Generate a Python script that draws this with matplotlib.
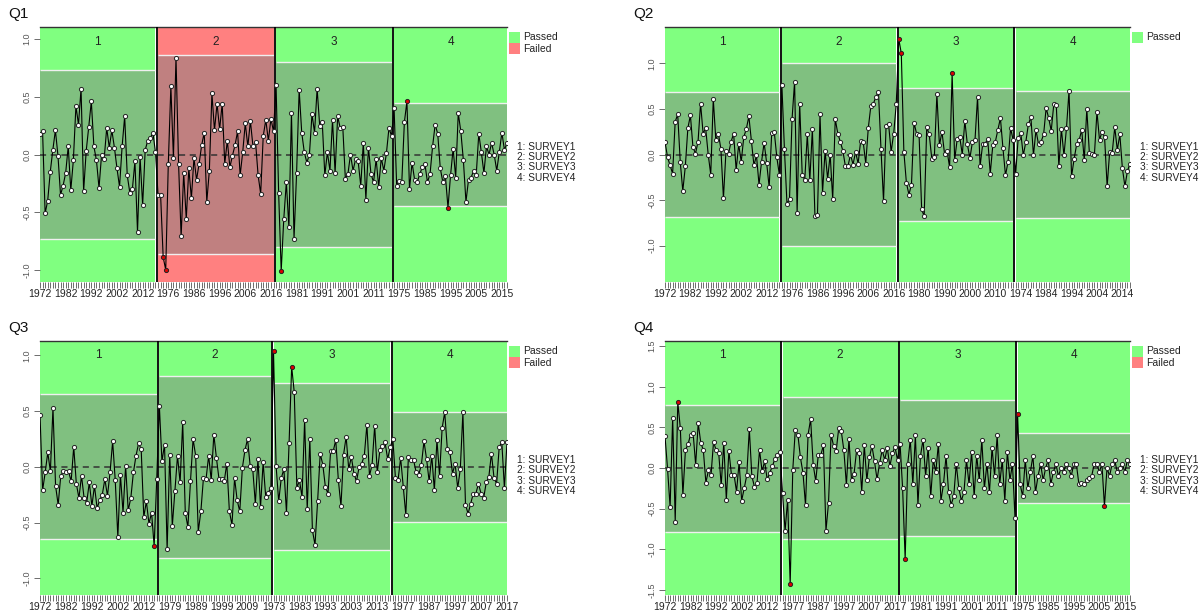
import matplotlib.pyplot as plt
from matplotlib.patches import Rectangle
import numpy as np

plt.rcParams['font.family'] = ['Liberation Sans', 'DejaVu Sans']

# ---- Q1 ----
q1_seg1 = [0.18, 0.20, -0.51, -0.40, -0.15, 0.04, 0.21, -0.01, -0.35, -0.27, -0.16, 0.07, -0.31, -0.05,
           0.42, 0.26, 0.57, -0.32, 0.03, 0.24, 0.46, 0.07, -0.05, -0.29, 0.00, -0.04, 0.23, 0.06, 0.21,
           0.06, -0.12, -0.28, 0.07, 0.33, -0.18, -0.33, -0.30, -0.06, -0.67, -0.02, -0.44, 0.04, 0.12,
           0.14, 0.19, 0.02]
q1_seg2 = [-0.35, -0.35, -0.89, -1.00, -0.08, 0.59, -0.03, 0.84, -0.08, -0.71, -0.16, -0.56, -0.12,
           -0.38, -0.03, -0.22, -0.08, 0.08, 0.19, -0.41, -0.14, 0.53, 0.21, 0.44, 0.22, 0.44, -0.08, 0.12,
           -0.11, -0.01, 0.08, 0.20, -0.18, 0.02, 0.27, 0.07, 0.29, 0.07, 0.11, -0.18, -0.34, 0.16, 0.30,
           0.12, 0.31, 0.20]
q1_seg3 = [0.60, -0.33, -1.01, -0.56, -0.24, -0.63, 0.36, -0.73, -0.16, 0.56, 0.19, 0.02, -0.07, 0.00,
           0.35, 0.19, 0.57, 0.25, 0.28, -0.18, 0.02, -0.14, 0.30, -0.16, 0.33, 0.23, 0.24, -0.21, -0.17,
           0.00, -0.14, -0.04, -0.06, -0.27, 0.10, -0.39, 0.06, -0.17, -0.24, -0.04, -0.28, -0.03, -0.14,
           0.01, 0.23, 0.16]
q1_seg4 = [0.40, -0.27, -0.23, -0.24, 0.28, 0.46, -0.30, -0.07, -0.22, -0.24, -0.17, -0.11, -0.08,
           -0.24, -0.17, 0.07, 0.26, 0.18, -0.12, -0.24, -0.19, -0.46, -0.18, 0.05, -0.20, 0.36, 0.20,
           -0.05, -0.41, -0.22, -0.20, -0.14, -0.18, 0.18, 0.02, -0.16, 0.07, 0.00, 0.10, 0.00, -0.14,
           0.02, 0.19, 0.04, 0.10]
q1_limits = [0.73, 0.865, 0.80, 0.445]
q1_passed = [True, False, True, True]
q1_labels = ['1972', '1982', '1992', '2002', '2012', '1976', '1986', '1996', '2006', '2016',
             '1981', '1991', '2001', '2011', '1975', '1985', '1995', '2005', '2015']

# ---- Q2 ----
q2_seg1 = [0.14, -0.03, -0.12, -0.21, 0.36, 0.44, -0.08, -0.40, -0.13, 0.29, 0.43, 0.08, 0.01, 0.14,
           0.56, 0.23, 0.29, 0.00, -0.22, 0.61, 0.16, 0.23, 0.06, -0.48, 0.04, 0.01, 0.14, 0.23, -0.17,
           0.11, -0.08, 0.19, 0.28, 0.42, 0.15, -0.12, -0.01, -0.33, -0.08, 0.13, -0.09, -0.36, 0.24,
           0.25, -0.03, -0.22]
q2_seg2 = [0.76, 0.06, -0.54, -0.49, 0.39, 0.80, -0.64, 0.56, -0.22, -0.28, 0.22, -0.28, 0.28, -0.67,
           -0.66, 0.44, -0.42, 0.04, -0.27, 0.00, -0.49, 0.39, 0.23, 0.14, 0.04, -0.13, -0.13, 0.00,
           -0.11, 0.03, -0.10, 0.15, 0.14, -0.10, 0.29, 0.53, 0.56, 0.63, 0.69, 0.06, -0.51, 0.31, 0.33,
           0.03, 0.23, 0.55]
q2_seg3 = [1.27, 1.11, 0.03, -0.31, -0.44, -0.33, 0.35, 0.23, 0.21, -0.60, -0.68, 0.30, 0.22, -0.05,
           -0.03, 0.66, 0.10, 0.25, 0.01, 0.04, -0.14, 0.89, -0.06, 0.17, 0.19, 0.00, 0.37, 0.11, -0.04,
           0.14, 0.16, 0.63, -0.13, 0.11, 0.12, 0.17, -0.21, 0.10, 0.14, 0.27, 0.40, 0.07, -0.23, -0.08,
           0.29, 0.16]
q2_seg4 = [-0.21, 0.18, 0.24, -0.01, 0.14, 0.33, 0.41, -0.01, 0.27, 0.11, 0.14, 0.22, 0.51, 0.40, 0.26,
           0.55, 0.54, -0.13, 0.28, -0.01, 0.29, 0.70, -0.24, -0.05, 0.11, 0.16, 0.27, -0.06, 0.50, 0.02,
           0.01, 0.00, 0.47, 0.16, 0.25, 0.19, -0.35, 0.03, 0.02, 0.30, 0.05, 0.22, -0.15, -0.35, -0.18,
           -0.10]
q2_limits = [0.69, 1.0, 0.725, 0.70]
q2_passed = [True, True, True, True]
q2_labels = ['1972', '1982', '1992', '2002', '2012', '1976', '1986', '1996', '2006', '2016',
             '1980', '1990', '2000', '2010', '1974', '1984', '1994', '2004', '2014']

# ---- Q3 ----
q3_seg1 = [0.47, -0.21, -0.05, 0.13, -0.04, 0.53, -0.17, -0.34, -0.08, -0.04, -0.05, -0.04, -0.13,
           0.18, -0.15, -0.28, -0.08, -0.28, -0.32, -0.14, -0.35, -0.17, -0.37, -0.30, -0.25, -0.11,
           -0.26, -0.05, 0.23, -0.12, -0.63, -0.07, -0.41, 0.01, -0.39, -0.28, -0.05, 0.10, 0.21, 0.16,
           -0.45, -0.31, -0.51, -0.41, -0.71, -0.11]
q3_seg2 = [0.55, 0.05, 0.20, -0.74, 0.11, -0.53, -0.22, 0.10, -0.14, 0.40, -0.41, -0.54, -0.13, 0.25,
           0.10, -0.58, -0.40, -0.10, -0.11, 0.10, -0.12, 0.29, 0.08, -0.11, -0.11, -0.13, 0.03, -0.40,
           -0.52, -0.10, -0.30, -0.40, -0.01, 0.15, 0.25, 0.01, -0.02, -0.33, 0.07, -0.36, 0.04, -0.27,
           -0.23, -0.19]
q3_seg3 = [1.04, 0.01, -0.31, -0.10, -0.02, -0.41, 0.21, 0.90, 0.67, -0.19, -0.12, -0.27, 0.42, -0.38,
           0.25, -0.57, -0.70, -0.31, 0.12, 0.02, -0.18, -0.24, 0.14, 0.14, 0.24, -0.12, -0.35, 0.11,
           0.27, -0.02, 0.09, -0.06, -0.13, 0.00, 0.03, 0.10, 0.38, -0.08, 0.02, 0.37, -0.05, 0.15, 0.19,
           0.22, 0.07, 0.18]
q3_seg4 = [0.25, -0.10, -0.12, 0.08, -0.18, -0.43, 0.09, 0.06, 0.06, -0.05, -0.07, 0.02, 0.23, 0.07,
           -0.13, 0.10, -0.21, 0.24, -0.08, 0.35, 0.49, 0.16, 0.13, -0.06, 0.03, -0.19, -0.02, 0.49,
           -0.34, -0.42, -0.33, -0.24, -0.24, -0.15, -0.24, -0.28, -0.14, -0.09, 0.12, -0.10, -0.15,
           0.18, 0.22, -0.19, 0.22]
q3_limits = [0.65, 0.815, 0.75, 0.495]
q3_passed = [True, True, True, True]
q3_labels = ['1972', '1982', '1992', '2002', '2012', '1979', '1989', '1999', '2009',
             '1973', '1983', '1993', '2003', '2013', '1977', '1987', '1997', '2007', '2017']

# ---- Q4 ----
q4_seg1 = [0.39, -0.01, -0.48, 0.62, -0.66, 0.81, 0.49, -0.33, 0.22, 0.29, 0.41, 0.43, 0.04, 0.55,
           0.31, 0.22, -0.18, -0.03, -0.09, 0.32, 0.22, 0.19, -0.21, 0.31, -0.39, 0.21, -0.08, -0.08,
           -0.29, 0.07, -0.40, -0.25, -0.09, 0.48, -0.10, -0.23, -0.19, 0.22, -0.04, 0.08, -0.14, -0.06,
           0.02, 0.11, 0.16, 0.20]
q4_seg2 = [-0.31, -0.77, -0.39, -1.43, -0.03, 0.47, 0.41, 0.13, -0.06, -0.46, 0.41, 0.60, 0.04, -0.16,
           0.16, 0.16, 0.28, -0.77, -0.43, 0.41, 0.27, 0.21, 0.49, 0.45, 0.22, -0.21, 0.36, -0.15, -0.07,
           0.22, 0.19, -0.29, 0.28, -0.15, 0.13, 0.27, 0.08, -0.14, 0.06, 0.22, 0.10, 0.25, 0.02, 0.18,
           0.26, 0.10]
q4_seg3 = [0.30, -0.25, -1.12, 0.05, 0.35, -0.20, 0.40, -0.45, 0.15, 0.35, -0.10, 0.25, -0.35, 0.10,
           -0.05, 0.30, -0.40, -0.20, 0.15, -0.30, -0.45, -0.35, 0.05, -0.25, -0.40, -0.30, 0.10, -0.20,
           0.20, -0.35, 0.15, -0.15, 0.35, -0.25, 0.05, -0.30, 0.25, -0.10, 0.40, -0.20, 0.10, -0.40,
           0.20, -0.15, 0.05, -0.62]
q4_seg4 = [0.66, -0.20, -0.35, 0.10, -0.25, -0.05, 0.15, -0.30, -0.10, 0.05, -0.15, 0.00, 0.10, -0.20,
           -0.05, 0.05, -0.10, 0.00, -0.05, 0.05, 0.00, -0.10, 0.05, 0.05, -0.20, -0.18, -0.20, -0.15,
           -0.12, -0.10, 0.05, 0.05, -0.05, 0.05, -0.47, 0.00, -0.10, 0.05, 0.10, -0.05, 0.00, 0.05,
           -0.05, 0.10, 0.05]
q4_limits = [0.78, 0.87, 0.84, 0.43]
q4_passed = [True, True, True, True]
q4_labels = ['1972', '1982', '1992', '2002', '2012', '1977', '1987', '1997', '2007', '2017',
             '1981', '1991', '2001', '2011', '1975', '1985', '1995', '2005', '2015']

surveys = ['SURVEY1', 'SURVEY2', 'SURVEY3', 'SURVEY4']

GREEN = '#80FF80'
GREEN_IN = '#80C080'
RED = '#FF8080'
RED_IN = '#C08080'


def draw_panel(ax, title, segs, limits, passed, labels, ylim, yticks, legend_items):
    n_tot = sum(len(s) for s in segs)
    y_all = np.concatenate([np.array(s) for s in segs])
    x_all = np.arange(n_tot)
    start = 0
    for i, seg in enumerate(segs):
        end = start + len(seg) - 1
        outer = GREEN if passed[i] else RED
        inner = GREEN_IN if passed[i] else RED_IN
        ax.add_patch(Rectangle((start, ylim[0]), end - start, ylim[1] - ylim[0],
                               facecolor=outer, lw=0, zorder=1))
        ax.add_patch(Rectangle((start, -limits[i]), end - start, 2 * limits[i],
                               facecolor=inner, lw=0, zorder=2))
        ax.hlines([-limits[i], limits[i]], start, end, colors='#f0f0f0', lw=1.0, zorder=3)
        ax.text((start + end) / 2, ylim[1] - 0.057 * (ylim[1] - ylim[0]), str(i + 1),
                ha='center', va='center', fontsize=8.5, color='#222222', zorder=6)
        if i < len(segs) - 1:
            ax.axvline(end + 0.5, color='black', lw=1.3, zorder=4)
        start = end + 1

    ax.axhline(0, color='#333333', lw=1.1, ls=(0, (4, 3)), zorder=3)
    ax.plot(x_all, y_all, color='black', lw=0.8, zorder=5)

    # flag the points outside the limits of their segment
    lim_all = np.concatenate([np.full(len(s), limits[i]) for i, s in enumerate(segs)])
    out = np.abs(y_all) > lim_all
    ax.plot(x_all[~out], y_all[~out], 'o', ms=3.0, mfc='white', mec='#222222', mew=0.7, zorder=6)
    ax.plot(x_all[out], y_all[out], 'o', ms=3.0, mfc='#DD0000', mec='#222222', mew=0.7, zorder=6)

    ax.set_xlim(0, n_tot - 1)
    ax.set_ylim(*ylim)
    ax.set_xticks(np.arange(0, n_tot, 10)[:len(labels)])
    ax.set_xticklabels(labels)
    ax.set_xticks(np.arange(n_tot), minor=True)
    ax.tick_params(axis='x', which='both', length=4, width=0.5, color='#333333',
                   labelsize=7.5, labelcolor='#222222', pad=1)
    ax.set_yticks(yticks)
    ax.set_yticklabels(['%.1f' % v for v in yticks], rotation=90, va='center')
    ax.tick_params(axis='y', length=4, width=0.6, color='#555555', labelsize=6.5,
                   labelcolor='#555555', pad=2)
    for side in ['left', 'right', 'bottom']:
        ax.spines[side].set_visible(False)
    ax.spines['top'].set_color('#333333')
    ax.spines['top'].set_linewidth(1.0)

    # legend boxes at the top right
    bw = 11 / (ax.bbox.width)
    bh = 11 / (ax.bbox.height)
    for k, (lab, col) in enumerate(legend_items):
        y0 = 1 - 5 / ax.bbox.height - (k + 1) * bh
        ax.add_patch(Rectangle((1.005, y0), bw, bh, transform=ax.transAxes,
                               facecolor=col, lw=0, clip_on=False))
        ax.text(1.005 + bw + 0.006, y0 + bh / 2, lab, transform=ax.transAxes,
                fontsize=7.5, va='center', ha='left', color='#222222')
    txt = '\n'.join('%d: %s' % (i + 1, s) for i, s in enumerate(surveys))
    ax.text(1.022, 0.47, txt, transform=ax.transAxes, fontsize=7.3, va='center', ha='left',
            color='#222222', linespacing=1.05)

    fig.text(ax.get_position().x0 - 32 / 1200, ax.get_position().y1 + 13 / 613, title,
             fontsize=11, ha='left', va='center', color='#111111')


fig = plt.figure(figsize=(12, 6.13), dpi=100)
W, H = 1200, 613
ax1 = fig.add_axes([40 / W, 1 - 282 / H, 467 / W, 255 / H])
ax2 = fig.add_axes([665 / W, 1 - 282 / H, 465 / W, 255 / H])
ax3 = fig.add_axes([40 / W, 1 - 595 / H, 467 / W, 254 / H])
ax4 = fig.add_axes([665 / W, 1 - 595 / H, 465 / W, 254 / H])

both = [('Passed', GREEN), ('Failed', RED)]
draw_panel(ax1, 'Q1', [q1_seg1, q1_seg2, q1_seg3, q1_seg4], q1_limits, q1_passed, q1_labels,
           (-1.105, 1.105), [-1.0, -0.5, 0.0, 0.5, 1.0], both)
draw_panel(ax2, 'Q2', [q2_seg1, q2_seg2, q2_seg3, q2_seg4], q2_limits, q2_passed, q2_labels,
           (-1.40, 1.40), [-1.0, -0.5, 0.0, 0.5, 1.0], [('Passed', GREEN)])
draw_panel(ax3, 'Q3', [q3_seg1, q3_seg2, q3_seg3, q3_seg4], q3_limits, q3_passed, q3_labels,
           (-1.15, 1.13), [-1.0, -0.5, 0.0, 0.5, 1.0], both)
draw_panel(ax4, 'Q4', [q4_seg1, q4_seg2, q4_seg3, q4_seg4], q4_limits, q4_passed, q4_labels,
           (-1.56, 1.56), [-1.5, -1.0, -0.5, 0.0, 0.5, 1.0, 1.5], both)

fig.savefig('out.png', dpi=100)
